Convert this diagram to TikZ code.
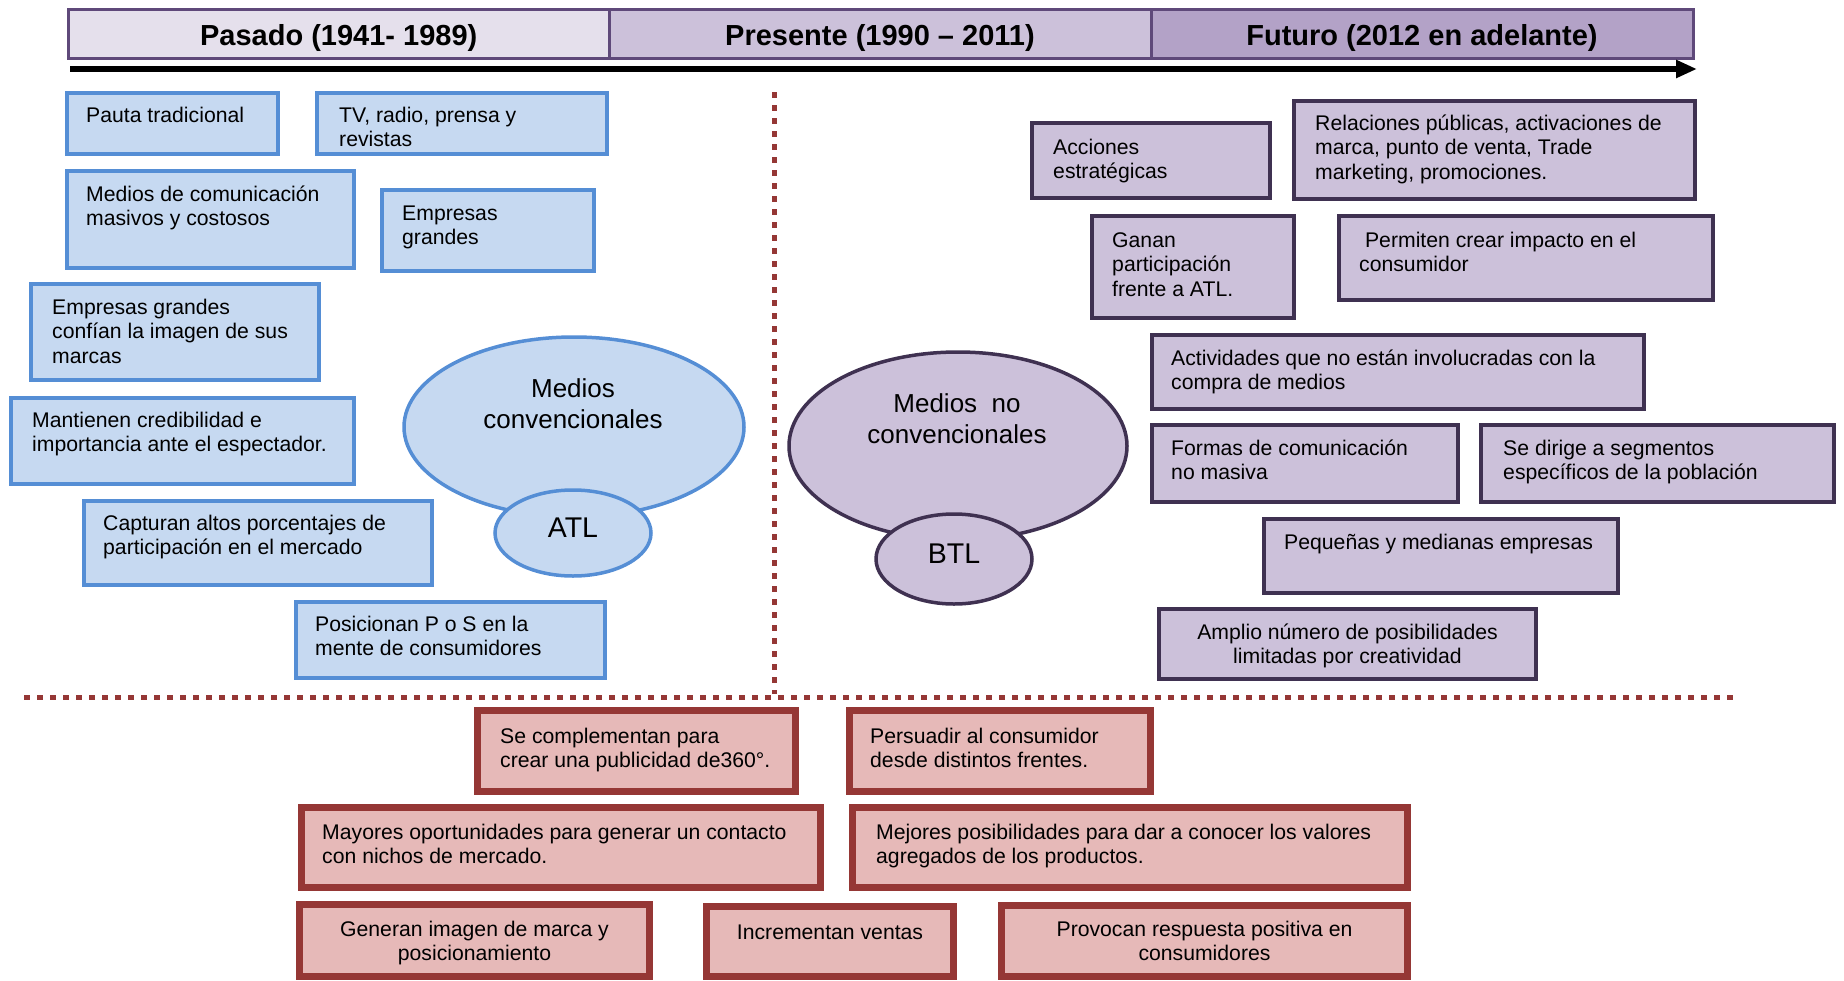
\documentclass[tikz,border=0pt]{standalone}
\usepackage{fontspec}
\setmainfont{Liberation Sans}
\usetikzlibrary{fit,shapes.geometric,arrows.meta}
\definecolor{bfill}{HTML}{C6D9F1}
\definecolor{bline}{HTML}{558ED5}
\definecolor{pfill}{HTML}{CCC1DA}
\definecolor{pline}{HTML}{3F3151}
\definecolor{rfill}{HTML}{E6B9B8}
\definecolor{rline}{HTML}{953735}
\definecolor{hA}{HTML}{E5E0EC}
\definecolor{hB}{HTML}{CCC1DA}
\definecolor{hC}{HTML}{B3A2C7}
\definecolor{hline}{HTML}{5F497A}
\newcommand{\myLbox}[9]{%
  \node[#1, fit={(#3,#4) (#5,#6)}] (#2) {};
  \node[txt, anchor=north west] (#2t) at (#7,{#8-9.3}) {\strut #9};}
\newcommand{\myCbox}[8]{%
  \node[#1, fit={(#3,#4) (#5,#6)}] (#2) {};
  \node[txt, align=center, anchor=north] (#2t) at ({(#3+#5)/2},{#7-9.3}) {\strut #8};}
\begin{document}
\begin{tikzpicture}[x=1pt,y=-1pt,
  txt/.style={inner sep=0pt, align=left, font=\fontsize{21.2}{24.7}\selectfont},
  ttl/.style={inner sep=0pt, font=\bfseries\fontsize{29}{33}\selectfont},
  etxt/.style={inner sep=0pt, align=center, font=\fontsize{26}{31.6}\selectfont},
  atxt/.style={inner sep=0pt, font=\fontsize{28.5}{32}\selectfont},
  hcell/.style={rectangle, draw=hline, line width=3pt, inner sep=0pt},
  bbox/.style={rectangle, draw=bline, fill=bfill, line width=3.5pt, inner sep=0pt},
  pbox/.style={rectangle, draw=pline, fill=pfill, line width=3.5pt, inner sep=0pt},
  rbox/.style={rectangle, draw=rline, fill=rfill, line width=7pt, inner sep=0pt},
  bell/.style={ellipse, draw=bline, fill=bfill, line width=3.5pt, inner sep=0pt},
  pell/.style={ellipse, draw=pline, fill=pfill, line width=3.5pt, inner sep=0pt},
  dotline/.style={draw=rline, line width=5pt, dash pattern=on 6pt off 7pt},
  tline/.style={draw=black, line width=5.5pt, -{Triangle[length=21pt,width=17pt]}}
]
\useasboundingbox (0,0) rectangle (1844,980);
% header
\node[hcell, fill=hA, fit={(68.5,9.5) (609,58)}] (c1) {};
\node[hcell, fill=hB, fit={(609,9.5) (1151,58)}] (c2) {};
\node[hcell, fill=hC, fit={(1151,9.5) (1693.5,58)}] (c3) {};
\node[ttl] (c1t) at (338.75,38.5) {Pasado (1941- 1989)};
\node[ttl] (c2t) at (880,38.5) {Presente (1990 – 2011)};
\node[ttl] (c3t) at (1422,38.5) {Futuro (2012 en adelante)};
% arrow
\coordinate (a1) at (70,69);
\coordinate (a2) at (1697,69);
\draw[tline] (a1) -- (a2);
% dotted dividers
\coordinate (v1) at (774,92);
\coordinate (v2) at (774,694);
\coordinate (h1) at (24,697);
\coordinate (h2) at (1737,697);
\draw[dotline] (v1) -- (v2);
\draw[dotline] (h1) -- (h2);
% blue boxes
\myLbox{bbox}{b1}{67}{93}{278}{154}{86}{114}{Pauta tradicional}
\myLbox{bbox}{b2}{317}{93}{607}{154}{339}{114}{TV, radio, prensa y\\revistas}
\myLbox{bbox}{b3}{67}{171}{354}{268}{86}{193}{Medios de comunicación\\masivos y costosos}
\myLbox{bbox}{b4}{382}{190}{594}{271}{402}{212}{Empresas\\grandes}
\myLbox{bbox}{b5}{31}{284}{319}{380}{52}{306}{Empresas grandes\\confían la imagen de sus\\marcas}
\myLbox{bbox}{b6}{11}{398}{354}{484}{32}{419}{Mantienen credibilidad e\\importancia ante el espectador.}
\myLbox{bbox}{b7}{84}{501}{432}{585}{103}{522}{Capturan altos porcentajes de\\participación en el mercado}
\myLbox{bbox}{b8}{296}{602}{605}{678}{315}{623}{Posicionan P o S en la\\mente de consumidores}
% purple boxes
\myLbox{pbox}{p1}{1032}{123}{1270}{198}{1053}{146}{Acciones\\estratégicas}
\myLbox{pbox}{p2}{1294}{101}{1695}{199}{1315}{122}{Relaciones públicas, activaciones de\\marca, punto de venta, Trade\\marketing, promociones.}
\myLbox{pbox}{p3}{1092}{216}{1294}{318}{1112}{239}{Ganan\\participación\\frente a ATL.}
\myLbox{pbox}{p4}{1339}{216}{1713}{300}{1359}{239}{\ Permiten crear impacto en el\\consumidor}
\myLbox{pbox}{p5}{1152}{335}{1644}{409}{1171}{357}{Actividades que no están involucradas con la\\compra de medios}
\myLbox{pbox}{p6}{1152}{425}{1458}{502}{1171}{447}{Formas de comunicación\\no masiva}
\myLbox{pbox}{p7}{1481}{425}{1834}{502}{1503}{447}{Se dirige a segmentos\\específicos de la población}
\myLbox{pbox}{p8}{1264}{519}{1618}{593}{1284}{541}{Pequeñas y medianas empresas}
\myCbox{pbox}{p9}{1159}{609}{1536}{679}{631}{Amplio número de posibilidades\\limitadas por creatividad}
% red boxes
\myLbox{rbox}{r1}{477.5}{710.5}{795.5}{791.5}{500}{735}{Se complementan para\\crear una publicidad de360°.}
\myLbox{rbox}{r2}{849.5}{710.5}{1150.5}{791.5}{870}{735}{Persuadir al consumidor\\desde distintos frentes.}
\myLbox{rbox}{r3}{301.5}{807.5}{820.5}{887.5}{322}{831}{Mayores oportunidades para generar un contacto\\con nichos de mercado.}
\myLbox{rbox}{r4}{852.5}{807.5}{1407.5}{887.5}{876}{831}{Mejores posibilidades para dar a conocer los valores\\agregados de los productos.}
\myCbox{rbox}{r5}{299.5}{904.5}{649.5}{976.5}{928}{Generan imagen de marca y\\posicionamiento}
\myCbox{rbox}{r6}{706.5}{906.5}{953.5}{976.5}{931}{Incrementan ventas}
\myCbox{rbox}{r7}{1001.5}{905.5}{1407.5}{976.5}{928}{Provocan respuesta positiva en\\consumidores}
% ellipses ATL
\node[bell, minimum width=340pt, minimum height=180pt] (mc) at (574,427) {};
\node[etxt, anchor=north] (mct) at (573,375) {\strut Medios\\convencionales};
\node[bell, minimum width=156pt, minimum height=86pt] (atl) at (573,533) {};
\node[atxt] (atlt) at (573,528) {ATL};
% ellipses BTL
\node[pell, minimum width=338pt, minimum height=188pt] (mnc) at (958,446) {};
\node[etxt, anchor=north] (mnct) at (957,390) {\strut Medios~ no\\convencionales};
\node[pell, minimum width=156pt, minimum height=90pt] (btl) at (954,559) {};
\node[atxt] (btlt) at (954,554) {BTL};
\end{tikzpicture}
\end{document}
